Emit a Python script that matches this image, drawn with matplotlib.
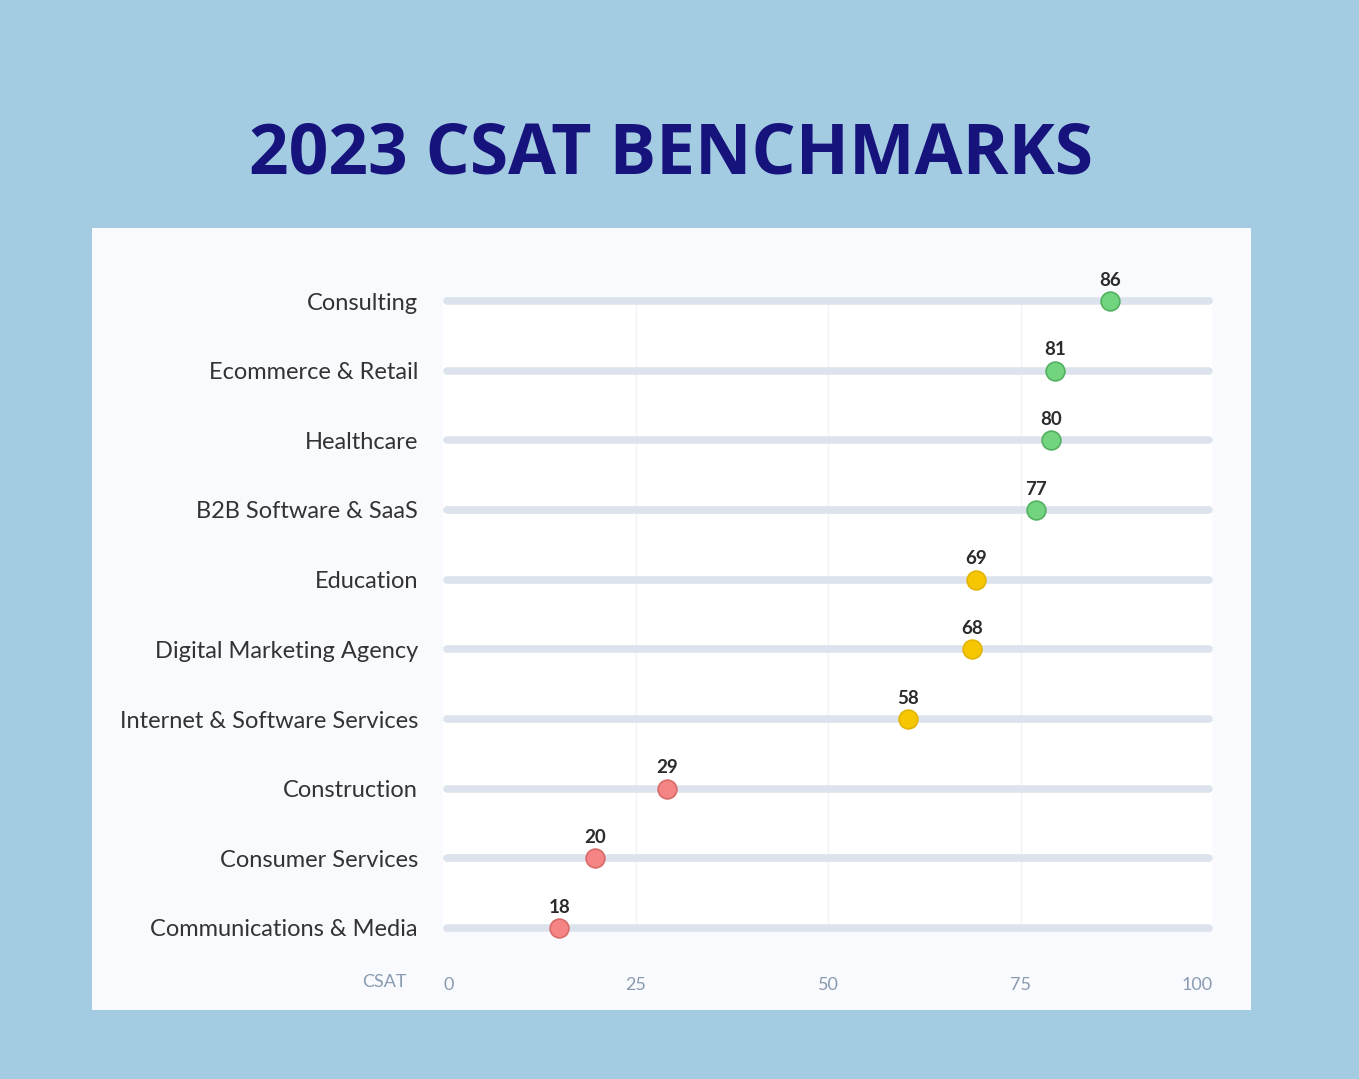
import matplotlib
matplotlib.use("Agg")
import matplotlib.pyplot as plt
from matplotlib.patches import Rectangle

# data (top to bottom)
industries = ["Consulting", "Ecommerce & Retail", "Healthcare", "B2B Software & SaaS",
              "Education", "Digital Marketing Agency", "Internet & Software Services",
              "Construction", "Consumer Services", "Communications & Media"]
csat_labels = [86, 81, 80, 77, 69, 68, 58, 29, 20, 18]
# where the dots actually sit on the 0-100 scale
csat_pos = [86.6, 79.5, 79.0, 77.0, 69.2, 68.7, 60.4, 29.1, 19.7, 15.1]
bands = ["good", "good", "good", "good", "mid", "mid", "mid", "low", "low", "low"]
xticks = [0, 25, 50, 75, 100]

band_face = {"good": "#72d47f", "mid": "#f6c700", "low": "#f48584"}
band_edge = {"good": "#52b060", "mid": "#e2b400", "low": "#d96a6a"}

W, H = 1359, 1079
fig = plt.figure(figsize=(W / 100, H / 100), dpi=100)
fig.patch.set_facecolor("#a3cce3")

# white card behind the chart
fig.add_artist(Rectangle((92 / W, 1 - 1010 / H), 1159 / W, 782 / H,
                         transform=fig.transFigure, facecolor="#f8fafd",
                         edgecolor="none", zorder=0))

fig.text(671 / W, 1 - 155 / H, "2023 CSAT BENCHMARKS", ha="center", va="center",
         fontsize=50, fontweight="bold", color="#17137c", family="Open Sans")

ax = fig.add_axes([443 / W, 1 - 928 / H, 770 / W, 627 / H])
ax.set_facecolor("white")
ax.set_zorder(1)

y = list(range(len(industries)))
for i in y:
    ax.plot([0.5, 99.5], [i, i], color="#dde3ec", lw=5.5, solid_capstyle="round",
            zorder=2, clip_on=False)
    ax.plot(csat_pos[i], i, "o", ms=13.5, mfc=band_face[bands[i]],
            mec=band_edge[bands[i]], mew=1.2, zorder=4, clip_on=False)
    ax.annotate(str(csat_labels[i]), (csat_pos[i], i), xytext=(0, 11),
                textcoords="offset points", ha="center", va="baseline",
                fontsize=13.5, fontweight="bold", color="#2b2b2b", family="Lato")

ax.set_xlim(0, 100)
ax.set_ylim(len(industries) - 1, 0)
ax.set_yticks(y)
ax.set_yticklabels(industries, family="Lato", fontsize=17, color="#333333",
                   va="center_baseline")
ax.set_xticks(xticks)
ax.set_xticklabels([str(t) for t in xticks], family="Lato", fontsize=13, color="#8a9ab0")
ax.tick_params(axis="y", length=0, pad=18)
ax.tick_params(axis="x", length=0, pad=35)
labs = ax.get_xticklabels()
labs[0].set_ha("left")
labs[-1].set_ha("right")

for t in xticks[1:]:
    ax.axvline(t, color="#f0f2f5", lw=1, zorder=1)
for s in ax.spines.values():
    s.set_visible(False)

ax.text(-0.047, -54 / 627, "CSAT", transform=ax.transAxes, ha="right", va="center",
        fontsize=13, color="#8a9ab0", family="Lato")

fig.savefig("out.png", dpi=100, facecolor=fig.get_facecolor())
